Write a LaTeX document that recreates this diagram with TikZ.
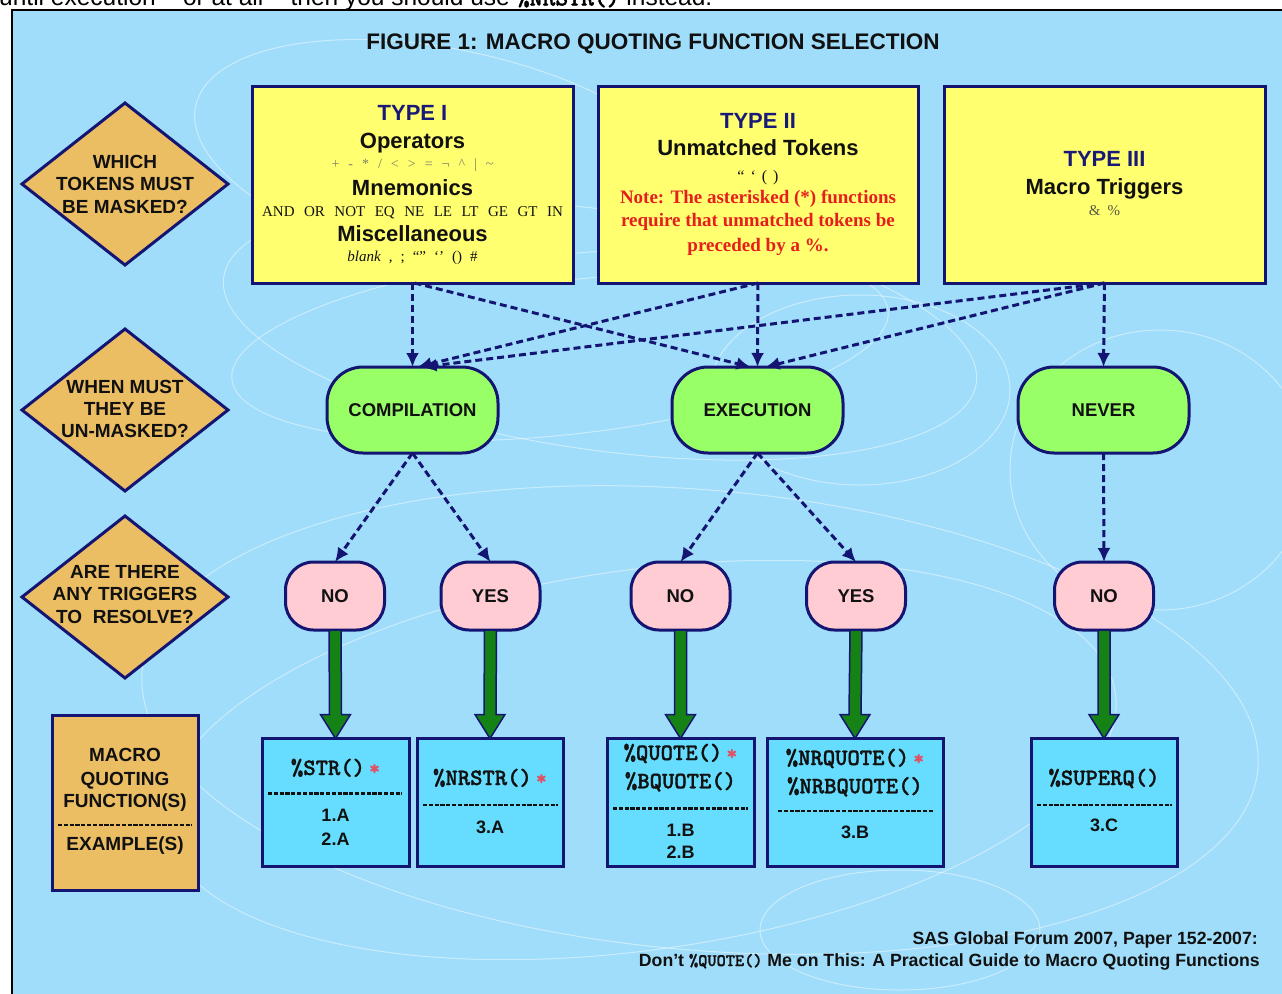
\documentclass[tikz,border=0pt]{standalone}
\usepackage{fontspec}
\setmainfont{Liberation Sans}
\newfontfamily\tnr{Liberation Serif}
\newfontfamily\monob[FakeBold=1.3]{lmmonolt10-bold.otf}
\usetikzlibrary{calc,arrows.meta,shapes.geometric}
\definecolor{bgblue}{RGB}{160,221,250}
\definecolor{navy}{RGB}{20,20,115}
\definecolor{tanc}{RGB}{236,190,100}
\definecolor{yel}{RGB}{255,255,112}
\definecolor{lgreen}{RGB}{153,255,102}
\definecolor{pinkc}{RGB}{255,204,212}
\definecolor{cyanbox}{RGB}{102,221,255}
\definecolor{dgreen}{RGB}{20,130,20}
\definecolor{notered}{RGB}{230,30,30}
\definecolor{opgray}{RGB}{125,125,100}
\definecolor{astred}{RGB}{225,80,100}
\definecolor{txt}{RGB}{17,17,17}
\definecolor{typeblue}{RGB}{25,25,120}
\newcommand\fs[1]{\fontsize{#1}{#1}\selectfont}
\newcommand\redast{\hspace{4pt}{\color{astred}\bfseries\fs{21}*}}
\newcommand\fatarr[2]{\path[fat] ($(#1.south)+(-6,0)$) -- ($(#2.north)+(-6,-24)$) -- ($(#2.north)+(-15,-24)$) -- (#2.north) -- ($(#2.north)+(15,-24)$) -- ($(#2.north)+(6,-24)$) -- ($(#1.south)+(6,0)$) -- cycle;}
\begin{document}
\begin{tikzpicture}[x=1pt,y=-1pt,
 bx/.style={draw=navy,line width=3pt,inner sep=0pt,outer sep=0pt},
 dia/.style={bx,diamond,fill=tanc,minimum width=206pt,minimum height=162pt},
 lbl/.style={inner sep=0pt,anchor=base,text=txt,font=\bfseries\fs{19}},
 ttl/.style={inner sep=0pt,anchor=base,text=txt,font=\bfseries\fs{22}},
 mono/.style={inner sep=0pt,anchor=base,text=txt,font=\monob\fs{23.5}},
 ybox/.style={bx,fill=yel,minimum height=197pt},
 gnode/.style={bx,fill=lgreen,rounded corners=36pt,minimum width=171pt,minimum height=86pt},
 pnode/.style={bx,fill=pinkc,rounded corners=28pt,minimum width=99pt,minimum height=68pt},
 cbox/.style={bx,fill=cyanbox,minimum height=128pt},
 sep/.style={line width=2.6pt,draw=txt,dash pattern=on 4.2pt off 1.6pt},
 darr/.style={draw=navy,line width=3pt,dash pattern=on 7pt off 4pt,-{Latex[length=14pt,width=13pt]}},
 fat/.style={draw=navy,line width=1.5pt,fill=dgreen,line join=miter},
 swirl/.style={draw=white,opacity=0.45,line width=1pt},
]
\useasboundingbox (0,0) rectangle (1282,993);
\fill[white] (0,0) rectangle (1282,993);
\begin{scope}
 \clip (0,0) rectangle (1282,9.5);
 \node[inner sep=0pt,anchor=base west,font=\fs{24.5}] (topline) at (-1,5.5) {until execution -- or at all -- then you should use {\monob\%NRSTR()} instead.};
\end{scope}
\fill[bgblue] (12,10) rectangle (1290,1000);
\begin{scope}
 \clip (12,10) rectangle (1290,1000);
 \draw[swirl,rotate around={-8:(600,330)}] (600,330) ellipse [x radius=380,y radius=120];
 \draw[swirl,rotate around={6:(560,345)}] (560,345) ellipse [x radius=330,y radius=90];
 \draw[swirl] (860,390) ellipse [x radius=150,y radius=95];
 \draw[swirl] (1160,470) ellipse [x radius=150,y radius=140];
 \draw[swirl,rotate around={-5:(700,720)}] (700,720) ellipse [x radius=560,y radius=230];
 \draw[swirl,rotate around={8:(640,760)}] (640,760) ellipse [x radius=480,y radius=190];
 \draw[swirl] (900,930) ellipse [x radius=140,y radius=60];
 \draw[swirl,rotate around={-12:(450,160)}] (450,160) ellipse [x radius=260,y radius=110];
\end{scope}
\draw[black,line width=2pt] (12,10) rectangle (1290,1000);

\node[inner sep=0pt,text=txt,font=\bfseries\fs{22.5}] (title) at (653,44) {FIGURE 1: MACRO QUOTING FUNCTION SELECTION};

% left column
\node[dia] (d1) at (125,184) {};
\node[lbl] (d1a) at (125,168.3) {WHICH};
\node[lbl] (d1b) at (125,190.5) {TOKENS MUST};
\node[lbl] (d1c) at (125,213.3) {BE MASKED?};
\node[dia] (d2) at (125,410) {};
\node[lbl] (d2a) at (125,393.3) {WHEN MUST};
\node[lbl] (d2b) at (125,415.5) {THEY BE};
\node[lbl] (d2c) at (125,437) {UN-MASKED?};
\node[dia] (d3) at (125,597) {};
\node[lbl] (d3a) at (125,578.3) {ARE THERE};
\node[lbl] (d3b) at (125,600.7) {ANY TRIGGERS};
\node[lbl] (d3c) at (125,623.3) {TO\ \ RESOLVE?};
\node[bx,fill=tanc,minimum width=146pt,minimum height=175pt] (lbox) at (125,802.5) {};
\node[lbl] (lb1) at (125,761.7) {MACRO};
\node[lbl] (lb2) at (125,785) {QUOTING};
\node[lbl] (lb3) at (125,807.3) {FUNCTION(S)};
\draw[sep] (58,825) -- (192,825);
\node[lbl] (lb4) at (125,850) {EXAMPLE(S)};

% type boxes
\node[ybox,minimum width=321pt] (t1) at (412.5,184.5) {};
\node[ttl,text=typeblue] (t1a) at (412.5,120.5) {TYPE I};
\node[ttl] (t1b) at (412.5,148.5) {Operators};
\node[inner sep=0pt,anchor=base,text=opgray,font=\tnr\fs{14}] (t1c) at (412.5,168.5) {+\hspace{9pt}-\hspace{9pt}*\hspace{9pt}/\hspace{9pt}<\hspace{9pt}>\hspace{9pt}=\hspace{9pt}¬\hspace{9pt}\textasciicircum\hspace{9pt}\textbar\hspace{9pt}\textasciitilde};
\node[ttl] (t1d) at (412.5,195) {Mnemonics};
\node[inner sep=0pt,anchor=base,text=txt,font=\tnr\fs{15}] (t1e) at (412.5,216.5) {AND\hspace{9.5pt}OR\hspace{9.5pt}NOT\hspace{9.5pt}EQ\hspace{9.5pt}NE\hspace{9.5pt}LE\hspace{9.5pt}LT\hspace{9.5pt}GE\hspace{9.5pt}GT\hspace{9.5pt}IN};
\node[ttl] (t1f) at (412.5,241.5) {Miscellaneous};
\node[inner sep=0pt,anchor=base,text=txt,font=\tnr\fs{15}] (t1g) at (412.5,261.5) {\textit{blank}\hspace{8pt},\hspace{8pt};\hspace{8pt}“”\hspace{8pt}‘’\hspace{8pt}()\hspace{8pt}\#};

\node[ybox,minimum width=320pt] (t2) at (758,184.5) {};
\node[ttl,text=typeblue] (t2a) at (758,128.3) {TYPE II};
\node[ttl] (t2b) at (758,155) {Unmatched Tokens};
\node[inner sep=0pt,anchor=base,text=txt,font=\tnr\fs{16}] (t2c) at (758,181.7) {“\hspace{6pt}‘\hspace{6pt}(\hspace{6pt})};
\node[inner sep=0pt,anchor=base,text=notered,font=\tnr\bfseries\fs{19}] (t2d) at (758,203.3) {Note: The asterisked (*) functions};
\node[inner sep=0pt,anchor=base,text=notered,font=\tnr\bfseries\fs{19}] (t2e) at (758,226) {require that unmatched tokens be};
\node[inner sep=0pt,anchor=base,text=notered,font=\tnr\bfseries\fs{19}] (t2f) at (758,251.7) {preceded by a \%.};

\node[ybox,minimum width=321pt] (t3) at (1104.5,184.5) {};
\node[ttl,text=typeblue] (t3a) at (1104.5,166.7) {TYPE III};
\node[ttl] (t3b) at (1104.5,194.3) {Macro Triggers};
\node[inner sep=0pt,anchor=base,text=opgray!70!black,font=\tnr\fs{15}] (t3c) at (1104.5,215.7) {\&\hspace{7pt}\%};

% green nodes
\node[gnode] (comp) at (412.5,410) {};
\node[lbl,font=\bfseries\fs{18.5}] (compt) at (412.5,416.5) {COMPILATION};
\node[gnode] (exec) at (757.5,410) {};
\node[lbl,font=\bfseries\fs{18.5}] (exect) at (757.5,416.5) {EXECUTION};
\node[gnode] (never) at (1103.5,410) {};
\node[lbl,font=\bfseries\fs{18.5}] (nevert) at (1103.5,416.5) {NEVER};

% pink nodes
\node[pnode] (no1) at (335,596) {};
\node[lbl,font=\bfseries\fs{18.5}] (no1t) at (335,602.5) {NO};
\node[pnode] (yes1) at (490.5,596) {};
\node[lbl,font=\bfseries\fs{18.5}] (yes1t) at (490.5,602.5) {YES};
\node[pnode] (no2) at (680.5,596) {};
\node[lbl,font=\bfseries\fs{18.5}] (no2t) at (680.5,602.5) {NO};
\node[pnode] (yes2) at (856,596) {};
\node[lbl,font=\bfseries\fs{18.5}] (yes2t) at (856,602.5) {YES};
\node[pnode] (no3) at (1104,596) {};
\node[lbl,font=\bfseries\fs{18.5}] (no3t) at (1104,602.5) {NO};

% cyan boxes
\node[cbox,minimum width=147pt] (b1) at (335.5,802.5) {};
\node[mono] (b1a) at (335.5,775) {\%STR()\redast};
\draw[sep] (268,793.3) -- (402,793.3);
\node[lbl,font=\bfseries\fs{18}] (b1b) at (335.5,821.7) {1.A};
\node[lbl,font=\bfseries\fs{18}] (b1c) at (335.5,845) {2.A};

\node[cbox,minimum width=146pt] (b2) at (490,802.5) {};
\node[mono] (b2a) at (490,785) {\%NRSTR()\redast};
\draw[sep] (423,805) -- (558,805);
\node[lbl,font=\bfseries\fs{18}] (b2b) at (490,833.3) {3.A};

\node[cbox,minimum width=147pt] (b3) at (680.5,802.5) {};
\node[mono] (b3a) at (680.5,760) {\%QUOTE()\redast};
\node[mono] (b3b) at (680.5,788.3) {\%BQUOTE()};
\draw[sep] (613,808.3) -- (748,808.3);
\node[lbl,font=\bfseries\fs{18}] (b3c) at (680.5,836) {1.B};
\node[lbl,font=\bfseries\fs{18}] (b3d) at (680.5,858.3) {2.B};

\node[cbox,minimum width=176pt] (b4) at (855,802.5) {};
\node[mono] (b4a) at (855,765) {\%NRQUOTE()\redast};
\node[mono] (b4b) at (855,793.3) {\%NRBQUOTE()};
\draw[sep] (778,811) -- (933,811);
\node[lbl,font=\bfseries\fs{18}] (b4c) at (855,838.3) {3.B};

\node[cbox,minimum width=146pt] (b5) at (1104,802.5) {};
\node[mono] (b5a) at (1104,785) {\%SUPERQ()};
\draw[sep] (1037,805) -- (1172,805);
\node[lbl,font=\bfseries\fs{18}] (b5b) at (1104,831.7) {3.C};

% dashed arrows type -> time
\draw[darr] (t1.south) -- (comp.north);
\draw[darr] ($(t1.south)+(2,0)$) -- ($(exec.north)+(-7,0)$);
\draw[darr] (t2.south) -- ($(comp.north)+(5,0)$);
\draw[darr] (t2.south) -- (exec.north);
\draw[darr] (t3.south) -- ($(comp.north)+(10,0)$);
\draw[darr] (t3.south) -- ($(exec.north)+(8,0)$);
\draw[darr] (t3.south) -- (never.north);

% dashed arrows time -> triggers
\draw[darr] (comp.south) -- (no1.north);
\draw[darr] (comp.south) -- (yes1.north);
\draw[darr] (exec.south) -- (no2.north);
\draw[darr] (exec.south) -- (yes2.north);
\draw[darr] (never.south) -- (no3.north);

% fat green arrows
\fatarr{no1}{b1}
\fatarr{yes1}{b2}
\fatarr{no2}{b3}
\fatarr{yes2}{b4}
\fatarr{no3}{b5}

% footer
\node[inner sep=0pt,anchor=base east,text=txt,font=\bfseries\fs{17.7}] (f1) at (1258,944) {SAS Global Forum 2007, Paper 152-2007:};
\node[inner sep=0pt,anchor=base east,text=txt,font=\bfseries\fs{17.7}] (f2) at (1260,966) {Don’t {\monob\fs{17.5}\%QUOTE()} Me on This: A Practical Guide to Macro Quoting Functions};
\end{tikzpicture}
\end{document}
